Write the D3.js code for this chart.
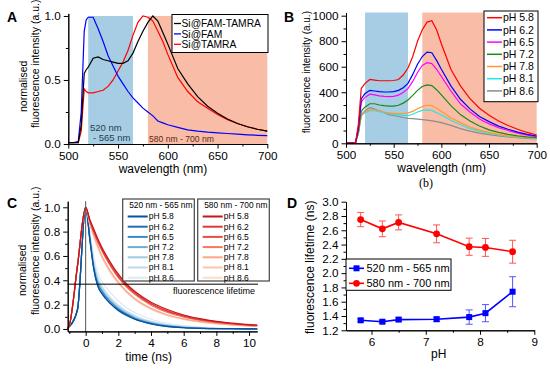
<!DOCTYPE html>
<html lang="en">
<head>
<meta charset="UTF-8">
<title>Fluorescence spectra and lifetimes</title>
<script src="https://cdn.jsdelivr.net/npm/d3@7"></script>
<style>
  body { margin: 0; background: #fff; }
  svg { font-family: "Liberation Sans", Arial, sans-serif; }
  .axis path, .axis line { stroke: #000; stroke-width: 1px; }
  .axis text { font-size: 11.7px; fill: #000; font-family: "Liberation Sans", Arial, sans-serif; }
  path.curve { fill: none; stroke-width: 1.2px; }
  text.lab { font-size: 12px; fill: #000; }
  text.panel { font-size: 14px; font-weight: bold; }
</style>
</head>
<body>
<svg width="550" height="369"></svg>
<script>
// ---------- data ----------
// panel A + B : emission spectra (wavelength grid in nm)
const wavelength = [500, 505, 510, 513, 516, 518, 520, 525, 530, 535, 540, 545, 550, 555, 560, 565, 570, 575, 580, 585, 590, 595, 600, 610, 620, 630, 640, 650, 660, 670, 680, 690, 700];

const specFamTamra = [0.01, 0.01, 0.01, 0.15, 0.55, 0.58, 0.6, 0.67, 0.68, 0.66, 0.65, 0.64, 0.63, 0.63, 0.65, 0.71, 0.8, 0.88, 0.95, 1.0, 0.96, 0.87, 0.78, 0.59, 0.47, 0.37, 0.295, 0.24, 0.195, 0.16, 0.135, 0.115, 0.1];
const specFam = [0.01, 0.01, 0.02, 0.25, 0.88, 0.97, 0.99, 0.99, 0.9, 0.8, 0.69, 0.61, 0.53, 0.47, 0.41, 0.36, 0.32, 0.28, 0.25, 0.22, 0.18, 0.165, 0.15, 0.13, 0.11, 0.1, 0.092, 0.087, 0.082, 0.077, 0.072, 0.068, 0.065];
const specTamra = [0.01, 0.01, 0.01, 0.1, 0.43, 0.41, 0.4, 0.4, 0.41, 0.42, 0.45, 0.5, 0.57, 0.64, 0.73, 0.85, 0.95, 1.0, 0.99, 0.96, 0.88, 0.8, 0.7, 0.52, 0.41, 0.33, 0.28, 0.23, 0.19, 0.16, 0.135, 0.115, 0.1];
const legendA = ['Si@FAM-TAMRA', 'Si@FAM', 'Si@TAMRA'];

const phLabels = ['pH 5.8', 'pH 6.2', 'pH 6.5', 'pH 7.2', 'pH 7.8', 'pH 8.1', 'pH 8.6'];
const specB58 = [2, 2, 5, 150, 430, 450, 470, 500, 495, 490, 490, 490, 492, 500, 535, 590, 680, 800, 890, 950, 960, 890, 780, 580, 450, 350, 275, 220, 175, 140, 110, 85, 65];
const specB62 = [2, 2, 5, 120, 350, 370, 390, 415, 410, 405, 402, 402, 405, 415, 435, 470, 540, 620, 680, 715, 710, 650, 580, 450, 345, 270, 210, 170, 135, 110, 88, 70, 57];
const specB65 = [2, 2, 5, 110, 320, 345, 360, 385, 380, 372, 368, 366, 368, 378, 398, 428, 485, 555, 610, 632, 625, 580, 525, 410, 310, 245, 190, 152, 122, 100, 80, 64, 52];
const specB72 = [2, 2, 4, 90, 250, 270, 285, 310, 310, 300, 295, 292, 292, 298, 315, 340, 375, 415, 445, 458, 452, 420, 380, 295, 225, 175, 135, 105, 85, 70, 58, 50, 44];
const specB78 = [2, 2, 4, 80, 220, 235, 245, 262, 262, 255, 245, 238, 235, 232, 233, 238, 250, 270, 288, 298, 295, 275, 250, 200, 162, 128, 103, 85, 70, 58, 50, 45, 42];
const specB81 = [2, 2, 4, 80, 215, 230, 240, 255, 255, 248, 240, 232, 228, 222, 218, 218, 228, 245, 258, 262, 258, 240, 222, 180, 145, 115, 95, 78, 65, 55, 47, 42, 39];
const specB86 = [2, 2, 4, 80, 220, 240, 255, 280, 268, 255, 240, 225, 218, 210, 202, 196, 193, 190, 186, 182, 176, 170, 162, 140, 115, 95, 80, 68, 58, 50, 44, 38, 34];

// panel C : normalised decays (time in ns)
const decayTime = [-1.1, -1, -0.5, 0, 0.25, 0.5, 0.75, 1, 1.5, 2, 2.5, 3, 4, 5, 6, 7, 8, 9, 10, 10.5];
const decayBlue58 = [0.01, 0.02, 0.16, 1.0, 0.74, 0.49, 0.35, 0.29, 0.21, 0.155, 0.115, 0.082, 0.043, 0.021, 0.01, 0.005, 0.003, 0.002, 0.001, 0.001];
const decayBlue62 = [0.01, 0.02, 0.16, 1.0, 0.74, 0.49, 0.35, 0.29, 0.21, 0.15, 0.11, 0.08, 0.042, 0.02, 0.01, 0.005, 0.003, 0.002, 0.001, 0.001];
const decayBlue65 = [0.01, 0.02, 0.16, 1.0, 0.75, 0.5, 0.37, 0.31, 0.225, 0.165, 0.122, 0.088, 0.047, 0.024, 0.012, 0.006, 0.003, 0.002, 0.001, 0.001];
const decayBlue72 = [0.01, 0.02, 0.16, 1.0, 0.76, 0.51, 0.38, 0.315, 0.23, 0.17, 0.126, 0.092, 0.05, 0.026, 0.013, 0.007, 0.004, 0.002, 0.001, 0.001];
const decayBlue78 = [0.01, 0.02, 0.16, 1.0, 0.77, 0.53, 0.4, 0.33, 0.245, 0.18, 0.135, 0.1, 0.055, 0.03, 0.016, 0.008, 0.004, 0.002, 0.001, 0.001];
const decayBlue81 = [0.01, 0.02, 0.16, 1.0, 0.78, 0.55, 0.42, 0.35, 0.26, 0.195, 0.147, 0.11, 0.062, 0.035, 0.019, 0.01, 0.005, 0.003, 0.002, 0.001];
const decayBlue86 = [0.01, 0.02, 0.16, 1.0, 0.8, 0.59, 0.46, 0.39, 0.3, 0.23, 0.175, 0.135, 0.08, 0.047, 0.027, 0.015, 0.008, 0.004, 0.002, 0.001];
const decayRed58 = [0.0, 0.03, 0.52, 1.0, 0.9, 0.82, 0.74, 0.67, 0.55, 0.45, 0.37, 0.31, 0.22, 0.16, 0.115, 0.085, 0.063, 0.048, 0.036, 0.032];
const decayRed62 = [0.0, 0.03, 0.52, 1.0, 0.89, 0.8, 0.72, 0.65, 0.53, 0.43, 0.355, 0.295, 0.205, 0.145, 0.105, 0.077, 0.057, 0.043, 0.033, 0.029];
const decayRed65 = [0.0, 0.03, 0.52, 1.0, 0.895, 0.81, 0.73, 0.66, 0.54, 0.44, 0.365, 0.3, 0.21, 0.15, 0.11, 0.08, 0.06, 0.045, 0.034, 0.03];
const decayRed72 = [0.0, 0.03, 0.52, 1.0, 0.885, 0.79, 0.71, 0.64, 0.52, 0.42, 0.345, 0.285, 0.195, 0.135, 0.097, 0.07, 0.052, 0.04, 0.03, 0.027];
const decayRed78 = [0.0, 0.03, 0.52, 1.0, 0.87, 0.77, 0.68, 0.6, 0.48, 0.385, 0.31, 0.25, 0.17, 0.117, 0.083, 0.06, 0.045, 0.034, 0.026, 0.023];
const decayRed81 = [0.0, 0.03, 0.52, 1.0, 0.865, 0.765, 0.675, 0.595, 0.475, 0.38, 0.305, 0.245, 0.165, 0.113, 0.08, 0.058, 0.043, 0.033, 0.025, 0.022];
const decayRed86 = [0.0, 0.03, 0.52, 1.0, 0.86, 0.75, 0.66, 0.58, 0.46, 0.37, 0.3, 0.24, 0.16, 0.11, 0.078, 0.056, 0.042, 0.032, 0.025, 0.022];
const lifetimeLevel = 0.368;

// panel D : lifetimes vs pH
const phValues = [5.8, 6.2, 6.5, 7.2, 7.8, 8.1, 8.6];
const lifeBlue = [1.34, 1.32, 1.35, 1.355, 1.385, 1.44, 1.74];
const lifeBlueErr = [0.02, 0.02, 0.025, 0.03, 0.1, 0.12, 0.21];
const lifeRed = [2.75, 2.62, 2.71, 2.55, 2.37, 2.36, 2.30];
const lifeRedErr = [0.1, 0.11, 0.105, 0.125, 0.12, 0.125, 0.16];
const bandLabels = ['520 nm - 565 nm', '580 nm - 700 nm'];

// tick values
const ticksWl = [500, 550, 600, 650, 700], minorWl = [525, 575, 625, 675];
const ticksA = [0, 0.5, 1.0], minorA = [0.25, 0.75];
const ticksB = [0, 200, 400, 600, 800, 1000], minorB = [100, 300, 500, 700, 900];
const ticksTime = [0, 2, 4, 6, 8, 10], minorTime = [-1, 1, 3, 5, 7, 9];
const ticksC = [0, 0.2, 0.4, 0.6, 0.8, 1.0], minorC = [0.1, 0.3, 0.5, 0.7, 0.9];
const ticksPh = [6, 7, 8, 9], minorPh = [6.5, 7.5, 8.5];
const ticksD = [1.2, 1.4, 1.6, 1.8, 2.0, 2.2, 2.4, 2.6, 2.8, 3.0], minorD = [1.3, 1.5, 1.7, 1.9, 2.1, 2.3, 2.5, 2.7, 2.9];

// ---------- drawing ----------
const svg = d3.select('svg');
const BAND_BLUE = '#a6cde3', BAND_SALMON = '#f9bca6';
const phColors = ['#ff0000', '#0000ff', '#ff00ff', '#1a8a1a', '#ff9933', '#22e6e6', '#8c8c8c'];
const blueShades = ['#08519c', '#1f6fb4', '#3a8ac6', '#6baed6', '#9ecae1', '#c0d9ee', '#dbe9f6'];
const redShades = ['#c4161c', '#dc3a3a', '#ef4a3c', '#f8765c', '#fba68a', '#fcc4ae', '#fddccd'];

function axes(g, x, y, o) {
  let yb = y.range()[0], xl = x.range()[0];
  g.append('g').attr('class', 'axis').attr('transform', `translate(0,${yb})`)
    .call(d3.axisBottom(x).tickValues(o.xMinor).tickSize(2.5).tickSizeOuter(0).tickFormat(''));
  g.append('g').attr('class', 'axis').attr('transform', `translate(0,${yb})`)
    .call(d3.axisBottom(x).tickValues(o.xTicks).tickSize(4.5).tickSizeOuter(0).tickPadding(3).tickFormat(o.xFmt));
  g.append('g').attr('class', 'axis').attr('transform', `translate(${xl},0)`)
    .call(d3.axisLeft(y).tickValues(o.yMinor).tickSize(2.5).tickSizeOuter(0).tickFormat(''));
  g.append('g').attr('class', 'axis').attr('transform', `translate(${xl},0)`)
    .call(d3.axisLeft(y).tickValues(o.yTicks).tickSize(4.5).tickSizeOuter(0).tickPadding(3).tickFormat(o.yFmt));
}

function vlabel(g, txt, x, yStart, size) {
  g.append('text').attr('class', 'lab').attr('transform', `translate(${x},${yStart}) rotate(-90)`)
    .style('font-size', size + 'px').text(txt);
}

// ===== Panel A =====
const gA = svg.append('g');
const xA = d3.scaleLinear().domain([500, 700]).range([68.3, 267.3]);
const yA = d3.scaleLinear().domain([0, 1.02]).range([144, 13.4]);
gA.append('rect').attr('x', xA(520)).attr('width', xA(565) - xA(520))
  .attr('y', yA(1)).attr('height', yA(0) - yA(1)).attr('fill', BAND_BLUE);
gA.append('rect').attr('x', xA(580)).attr('width', xA(700) - xA(580))
  .attr('y', yA(1)).attr('height', yA(0) - yA(1)).attr('fill', BAND_SALMON);
gA.append('text').attr('x', 90).attr('y', 130.5).style('font-size', '9.5px').attr('fill', '#2b3b4b').text('520 nm');
gA.append('text').attr('x', 93).attr('y', 141).style('font-size', '9.5px').attr('fill', '#2b3b4b').text('- 565 nm');
gA.append('text').attr('x', 149).attr('y', 141.5).style('font-size', '8.6px').attr('fill', '#5a2a1a').text('580 nm - 700 nm');

let lineA = d3.line().x((d, i) => xA(wavelength[i])).y(d => yA(d));
const seriesA = [specTamra, specFam, specFamTamra];
const colorsA = ['#ff0000', '#0000ff', '#000000'];
seriesA.forEach((s, k) => {
  gA.append('path').attr('class', 'curve').attr('d', lineA(s)).attr('stroke', colorsA[k]);
});
axes(gA, xA, yA, {xTicks: ticksWl, xMinor: minorWl, xFmt: d3.format('d'),
  yTicks: ticksA, yMinor: minorA, yFmt: d3.format('.1f')});
gA.append('text').attr('class', 'lab').attr('x', 163).attr('y', 173).attr('text-anchor', 'middle').text('wavelength (nm)');
vlabel(gA, 'normalised', 26.5, 112, 10.5);
vlabel(gA, 'fluorescence intensity (a.u.)', 38.5, 128, 10.5);
gA.append('text').attr('class', 'panel').attr('x', 7).attr('y', 22).text('A');

// legend A
const legAcol = ['#000000', '#0000ff', '#ff0000'];
gA.append('rect').attr('x', 172).attr('y', 14.5).attr('width', 96).attr('height', 38)
  .attr('fill', '#fff').attr('stroke', '#000');
legendA.forEach((t, i) => {
  let yy = 23.5 + i * 10.4;
  gA.append('line').attr('x1', 174).attr('x2', 181).attr('y1', yy).attr('y2', yy)
    .attr('stroke', legAcol[i]).attr('stroke-width', 1.3);
  gA.append('text').attr('x', 181.5).attr('y', yy).attr('dy', '0.35em').style('font-size', '10.3px').text(t);
});

// ===== Panel B =====
const gB = svg.append('g');
const xB = d3.scaleLinear().domain([500, 700]).range([346, 536.7]);
const yB = d3.scaleLinear().domain([0, 1025]).range([143.3, 12.5]);
gB.append('rect').attr('x', xB(520)).attr('width', xB(565) - xB(520))
  .attr('y', yB(1025)).attr('height', yB(0) - yB(1025)).attr('fill', BAND_BLUE);
gB.append('rect').attr('x', xB(580)).attr('width', xB(700) - xB(580))
  .attr('y', yB(1025)).attr('height', yB(0) - yB(1025)).attr('fill', BAND_SALMON);
let lineB = d3.line().x((d, i) => xB(wavelength[i])).y(d => yB(d));
const seriesB = [specB58, specB62, specB65, specB72, specB78, specB81, specB86];
for (let k = seriesB.length - 1; k >= 0; k--) {
  gB.append('path').attr('class', 'curve').attr('d', lineB(seriesB[k])).attr('stroke', phColors[k]);
}
axes(gB, xB, yB, {xTicks: ticksWl, xMinor: minorWl, xFmt: d3.format('d'),
  yTicks: ticksB, yMinor: minorB, yFmt: d3.format('d')});
gB.append('text').attr('class', 'lab').attr('x', 441.7).attr('y', 172).attr('text-anchor', 'middle').text('wavelength (nm)');
vlabel(gB, 'fluorescence intensity (a.u.)', 310, 133.3, 10);
gB.append('text').attr('class', 'panel').attr('x', 284).attr('y', 22).text('B');
gB.append('text').attr('x', 426).attr('y', 187).attr('text-anchor', 'middle')
  .style('font-family', '"Liberation Serif", "DejaVu Serif", serif').style('font-size', '12px').text('(b)');

gB.append('rect').attr('x', 484).attr('y', 11).attr('width', 54).attr('height', 90.7)
  .attr('fill', '#fff').attr('stroke', '#000');
phLabels.forEach((t, i) => {
  let yy = 17.7 + i * 12.2;
  gB.append('line').attr('x1', 487).attr('x2', 502).attr('y1', yy).attr('y2', yy)
    .attr('stroke', phColors[i]).attr('stroke-width', 1.5);
  gB.append('text').attr('x', 503).attr('y', yy).attr('dy', '0.35em').style('font-size', '10.5px').text(t);
});

// ===== Panel C =====
const gC = svg.append('g');
const xC = d3.scaleLinear().domain([-1.1, 10.5]).range([67.7, 257.2]);
const yC = d3.scaleLinear().domain([-0.02, 1.05]).range([331.4, 201.2]);
let lineC = d3.line().curve(d3.curveMonotoneX).x((d, i) => xC(decayTime[i])).y(d => yC(d));
const bluesC = [decayBlue58, decayBlue62, decayBlue65, decayBlue72, decayBlue78, decayBlue81, decayBlue86];
const redsC = [decayRed58, decayRed62, decayRed65, decayRed72, decayRed78, decayRed81, decayRed86];
for (let k = bluesC.length - 1; k >= 0; k--) {
  gC.append('path').attr('class', 'curve').attr('d', lineC(bluesC[k])).attr('stroke', blueShades[k]).attr('stroke-width', 1.3);
}
for (let k = redsC.length - 1; k >= 0; k--) {
  gC.append('path').attr('class', 'curve').attr('d', lineC(redsC[k])).attr('stroke', redShades[k]).attr('stroke-width', 1.3);
}
gC.append('line').attr('x1', xC(0)).attr('x2', xC(0)).attr('y1', yC.range()[1]).attr('y2', yC.range()[0])
  .attr('stroke', '#555').attr('stroke-width', 1);
gC.append('line').attr('x1', xC(-1.1)).attr('x2', 258).attr('y1', yC(lifetimeLevel)).attr('y2', yC(lifetimeLevel))
  .attr('stroke', '#000').attr('stroke-width', 1);
gC.append('text').attr('x', 173).attr('y', 294).style('font-size', '9px').text('fluorescence lifetime');
axes(gC, xC, yC, {xTicks: ticksTime, xMinor: minorTime, xFmt: d3.format('d'),
  yTicks: ticksC, yMinor: minorC, yFmt: d3.format('.1f')});
gC.append('text').attr('class', 'lab').attr('x', 148.7).attr('y', 360.5).attr('text-anchor', 'middle').text('time (ns)');
vlabel(gC, 'normalised', 26, 296, 10.5);
vlabel(gC, 'fluorescence intensity (a.u.)', 38.5, 315, 10.5);
gC.append('text').attr('class', 'panel').attr('x', 7).attr('y', 208).text('C');

// legends C
[[122.7, bandLabels[0], blueShades], [197.7, bandLabels[1], redShades]].forEach(([lx, title, shades]) => {
  gC.append('rect').attr('x', lx).attr('y', 199).attr('width', 71.6).attr('height', 82)
    .attr('fill', '#fff').attr('stroke', '#444').attr('stroke-width', 1.2);
  gC.append('text').attr('x', lx + 6.5).attr('y', 208).style('font-size', '8.4px').text(title);
  phLabels.forEach((t, i) => {
    let yy = 216.5 + i * 10.2;
    gC.append('line').attr('x1', lx + 5).attr('x2', lx + 25).attr('y1', yy).attr('y2', yy)
      .attr('stroke', shades[i]).attr('stroke-width', 2);
    gC.append('text').attr('x', lx + 26).attr('y', yy).attr('dy', '0.35em').style('font-size', '8.5px').text(t);
  });
});

// ===== Panel D =====
const gD = svg.append('g');
const xD = d3.scaleLinear().domain([5.53, 9]).range([346, 534.3]);
const yD = d3.scaleLinear().domain([1.2, 3.0]).range([330.3, 201.7]);
const seriesD = [
  {v: lifeRed, e: lifeRedErr, c: '#ff0000', ec: '#ff5555', m: 'circle'},
  {v: lifeBlue, e: lifeBlueErr, c: '#0000ff', ec: '#5555ff', m: 'square'}
];
seriesD.forEach(s => {
  phValues.forEach((p, i) => {
    let x = xD(p), y1 = yD(s.v[i] + s.e[i]), y2 = yD(s.v[i] - s.e[i]);
    gD.append('line').attr('x1', x).attr('x2', x).attr('y1', y1).attr('y2', y2).attr('stroke', s.ec);
    gD.append('line').attr('x1', x - 3.5).attr('x2', x + 3.5).attr('y1', y1).attr('y2', y1).attr('stroke', s.ec);
    gD.append('line').attr('x1', x - 3.5).attr('x2', x + 3.5).attr('y1', y2).attr('y2', y2).attr('stroke', s.ec);
  });
  let ln = d3.line().x((d, i) => xD(phValues[i])).y(d => yD(d));
  gD.append('path').attr('d', ln(s.v)).attr('fill', 'none').attr('stroke', s.c).attr('stroke-width', 1.6);
  s.v.forEach((d, i) => {
    if (s.m === 'circle') {
      gD.append('circle').attr('cx', xD(phValues[i])).attr('cy', yD(d)).attr('r', 3.4).attr('fill', s.c);
    } else {
      gD.append('rect').attr('x', xD(phValues[i]) - 3).attr('y', yD(d) - 3).attr('width', 6).attr('height', 6).attr('fill', s.c);
    }
  });
});
axes(gD, xD, yD, {xTicks: ticksPh, xMinor: minorPh, xFmt: d3.format('d'),
  yTicks: ticksD, yMinor: minorD, yFmt: d3.format('.1f')});
gD.append('text').attr('class', 'lab').attr('x', 438.7).attr('y', 358).attr('text-anchor', 'middle').text('pH');
vlabel(gD, 'fluorescence lifetime (ns)', 314, 334, 12);
gD.append('text').attr('class', 'panel').attr('x', 287).attr('y', 208).text('D');

gD.append('rect').attr('x', 346).attr('y', 259).attr('width', 105).attr('height', 31.3)
  .attr('fill', '#fff').attr('stroke', '#000');
[[bandLabels[0], '#0000ff', 'square', 268.3], [bandLabels[1], '#ff0000', 'circle', 283.3]].forEach(([t, c, m, yy]) => {
  gD.append('line').attr('x1', 349).attr('x2', 364).attr('y1', yy).attr('y2', yy).attr('stroke', c).attr('stroke-width', 1.6);
  if (m === 'circle') gD.append('circle').attr('cx', 356.5).attr('cy', yy).attr('r', 3.4).attr('fill', c);
  else gD.append('rect').attr('x', 353.5).attr('y', yy - 3).attr('width', 6).attr('height', 6).attr('fill', c);
  gD.append('text').attr('x', 366.5).attr('y', yy).attr('dy', '0.35em').style('font-size', '11px').text(t);
});
</script>
</body>
</html>
